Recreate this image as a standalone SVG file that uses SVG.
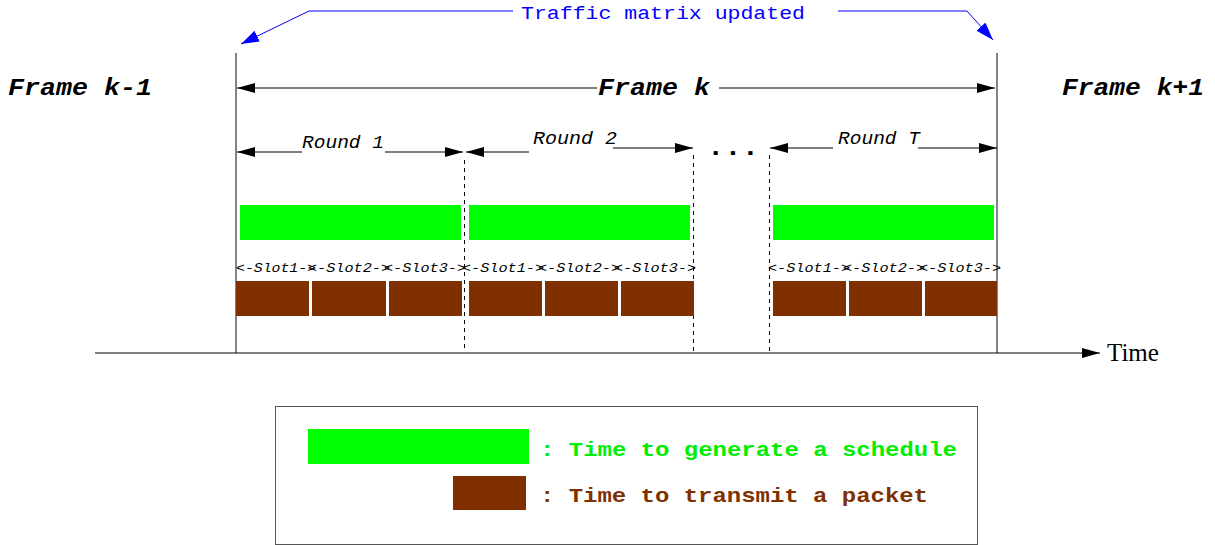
<svg xmlns="http://www.w3.org/2000/svg" width="1215" height="545" viewBox="0 0 1215 545">
  <style>
    .mono { font-family: "Liberation Mono", "DejaVu Sans Mono", monospace; }
    .frame { font-family: "Liberation Mono", monospace; font-weight: bold; font-style: italic; font-size: 24px; fill: #000; }
    .round { font-family: "Liberation Mono", monospace; font-style: italic; font-size: 18px; fill: #000; }
    .slot { font-family: "Liberation Mono", monospace; font-style: italic; font-size: 13px; fill: #000; }
    .legend { font-family: "Liberation Mono", monospace; font-weight: bold; font-size: 21px; }
    .ln { stroke: #000; stroke-width: 1; fill: none; }
    .bound { stroke: #333; stroke-width: 1.2; fill: none; }
    .dash { stroke: #000; stroke-width: 1; stroke-dasharray: 4 4; fill: none; }
    .blue { stroke: #0000ff; stroke-width: 1; fill: none; }
    .sched { fill: #00ff00; }
    .pkt { fill: #803000; }
  </style>
  <defs>
    <marker id="ah" viewBox="0 0 18 10" refX="18" refY="5" markerWidth="18" markerHeight="10" markerUnits="userSpaceOnUse" orient="auto">
      <path d="M0,0 L18,5 L0,10 Z" fill="#000"/>
    </marker>
    <marker id="ahb" viewBox="0 0 18 12" refX="18" refY="6" markerWidth="18" markerHeight="12" markerUnits="userSpaceOnUse" orient="auto">
      <path d="M0,0 L18,6 L0,12 Z" fill="#0000ff"/>
    </marker>
  </defs>

  <rect width="1215" height="545" fill="#fff"/>

  <!-- connectors: frame boundaries, round markers, time axis -->
  <g id="connectors">
    <line class="bound" x1="236" y1="53" x2="236" y2="353"/>
    <line class="bound" x1="997" y1="53" x2="997" y2="353"/>
    <line class="dash" x1="464.5" y1="160" x2="464.5" y2="352"/>
    <line class="dash" x1="693.5" y1="155" x2="693.5" y2="352"/>
    <line class="dash" x1="769.5" y1="155" x2="769.5" y2="352"/>

    <!-- traffic matrix update arrows -->
    <polyline class="blue" points="513,11 309,11 241,44" marker-end="url(#ahb)"/>
    <polyline class="blue" points="838,11 967,11 993,40" marker-end="url(#ahb)"/>

    <!-- frame k span -->
    <line class="ln" x1="597" y1="88" x2="237" y2="88" marker-end="url(#ah)"/>
    <line class="ln" x1="719" y1="88" x2="995" y2="88" marker-end="url(#ah)"/>

    <!-- round spans -->
    <line class="ln" x1="302" y1="152" x2="237" y2="152" marker-end="url(#ah)"/>
    <line class="ln" x1="385" y1="152" x2="463" y2="152" marker-end="url(#ah)"/>
    <line class="ln" x1="529" y1="152" x2="466" y2="152" marker-end="url(#ah)"/>
    <line class="ln" x1="613" y1="148" x2="693" y2="148" marker-end="url(#ah)"/>
    <line class="ln" x1="833" y1="148" x2="770" y2="148" marker-end="url(#ah)"/>
    <line class="ln" x1="918" y1="148" x2="997" y2="148" marker-end="url(#ah)"/>

    <!-- time axis -->
    <line class="ln" x1="95" y1="353" x2="1100" y2="353" marker-end="url(#ah)"/>
  </g>

  <g id="labels">
    <text class="mono" x="521" y="19" font-size="19" fill="#0000ff" textLength="284" lengthAdjust="spacingAndGlyphs">Traffic matrix updated</text>
    <text class="frame" x="8" y="95" textLength="144" lengthAdjust="spacingAndGlyphs">Frame k-1</text>
    <text class="frame" x="598" y="95" textLength="112" lengthAdjust="spacingAndGlyphs">Frame k</text>
    <text class="frame" x="1062" y="95" textLength="142" lengthAdjust="spacingAndGlyphs">Frame k+1</text>
    <text class="round" x="302" y="148" textLength="82" lengthAdjust="spacingAndGlyphs">Round 1</text>
    <text class="round" x="533" y="144" textLength="84" lengthAdjust="spacingAndGlyphs">Round 2</text>
    <text class="round" x="838" y="144" textLength="82" lengthAdjust="spacingAndGlyphs">Round T</text>
    <text class="mono" x="707" y="155" font-size="26" font-weight="bold" textLength="52" lengthAdjust="spacingAndGlyphs">...</text>
    <text x="1107" y="361" font-family="Liberation Serif, serif" font-size="25" fill="#000">Time</text>
  </g>

  <!-- round 1 -->
  <g id="round1">
    <rect class="sched" x="240" y="205" width="221" height="35"/>
    <text class="slot" x="236" y="272" textLength="80" lengthAdjust="spacingAndGlyphs">&lt;-Slot1-&gt;</text>
    <text class="slot" x="308" y="272" textLength="82" lengthAdjust="spacingAndGlyphs">&lt;-Slot2-&gt;</text>
    <text class="slot" x="384" y="272" textLength="82" lengthAdjust="spacingAndGlyphs">&lt;-Slot3-&gt;</text>
    <rect class="pkt" x="236" y="281" width="73" height="35"/>
    <rect class="pkt" x="312" y="281" width="74" height="35"/>
    <rect class="pkt" x="389" y="281" width="73" height="35"/>
  </g>

  <!-- round 2 -->
  <g id="round2">
    <rect class="sched" x="469" y="205" width="221" height="35"/>
    <text class="slot" x="462" y="272" textLength="82" lengthAdjust="spacingAndGlyphs">&lt;-Slot1-&gt;</text>
    <text class="slot" x="538" y="272" textLength="82" lengthAdjust="spacingAndGlyphs">&lt;-Slot2-&gt;</text>
    <text class="slot" x="614" y="272" textLength="82" lengthAdjust="spacingAndGlyphs">&lt;-Slot3-&gt;</text>
    <rect class="pkt" x="469" y="281" width="73" height="35"/>
    <rect class="pkt" x="545" y="281" width="73" height="35"/>
    <rect class="pkt" x="621" y="281" width="73" height="35"/>
  </g>

  <!-- round T -->
  <g id="roundT">
    <rect class="sched" x="773" y="205" width="221" height="35"/>
    <text class="slot" x="768" y="272" textLength="82" lengthAdjust="spacingAndGlyphs">&lt;-Slot1-&gt;</text>
    <text class="slot" x="843" y="272" textLength="82" lengthAdjust="spacingAndGlyphs">&lt;-Slot2-&gt;</text>
    <text class="slot" x="919" y="272" textLength="82" lengthAdjust="spacingAndGlyphs">&lt;-Slot3-&gt;</text>
    <rect class="pkt" x="773" y="281" width="73" height="35"/>
    <rect class="pkt" x="849" y="281" width="73" height="35"/>
    <rect class="pkt" x="925" y="281" width="72" height="35"/>
  </g>

  <!-- legend -->
  <g id="legend">
    <rect x="275.5" y="406.5" width="702" height="138" fill="none" stroke="#555" stroke-width="1"/>
    <rect class="sched" x="308" y="429" width="221" height="35"/>
    <text class="legend" x="540" y="456" fill="#00ee00" textLength="417" lengthAdjust="spacingAndGlyphs">: Time to generate a schedule</text>
    <rect class="pkt" x="453" y="476" width="73" height="34"/>
    <text class="legend" x="540" y="502" fill="#803000" textLength="388" lengthAdjust="spacingAndGlyphs">: Time to transmit a packet</text>
  </g>
</svg>
